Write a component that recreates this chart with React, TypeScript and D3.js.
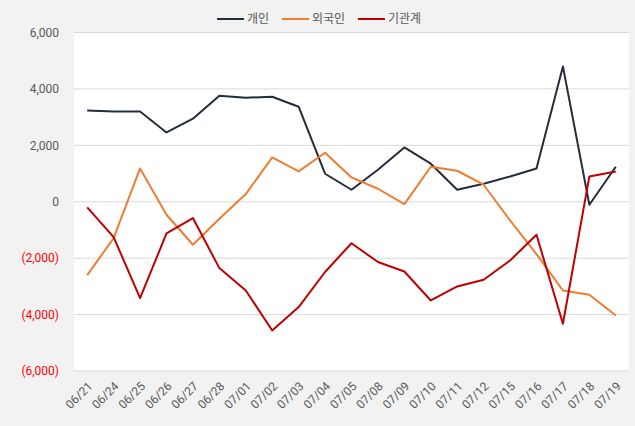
import React from "react";
import * as d3 from "d3";

const dates = ["06/21","06/24","06/25","06/26","06/27","06/28","07/01","07/02","07/03","07/04","07/05","07/08","07/09","07/10","07/11","07/12","07/15","07/16","07/17","07/18","07/19"];
const individual = [3237,3200,3200,2457,2943,3759,3688,3723,3369,993,425,1135,1926,1348,425,638,897,1181,4798,-106,1241];
const foreign = [-2600,-1287,1181,-461,-1525,-603,273,1571,1075,1738,862,461,-82,1241,1099,603,-663,-1855,-3145,-3298,-4032];
const institution = [-202,-1252,-3415,-1124,-578,-2352,-3145,-4564,-3734,-2490,-1470,-2138,-2471,-3500,-3003,-2766,-2081,-1170,-4326,897,1075];
const yTicks = [6000,4000,2000,0,-2000,-4000,-6000];
const seriesNames = ["개인","외국인","기관계"];
const seriesColors = ["#252d3a","#ed7d31","#c00000"];

const W = 635, H = 426;
const left = 74, right = 629, top = 32.5, bottom = 371;

export default function App() {
  const x = d3.scaleBand<string>().domain(dates).range([left, right]);
  const y = d3.scaleLinear().domain([-6000, 6000]).range([bottom, top]);
  const cx = (d: string) => (x(d) as number) + x.bandwidth() / 2;
  const line = d3.line<number>().x((_, i) => cx(dates[i])).y((v) => y(v));
  const all = [individual, foreign, institution];
  const fmt = (v: number) => v < 0 ? `(${d3.format(",")(-v)})` : d3.format(",")(v);
  const legendX = [217, 282, 358];
  return (
    <svg width={W} height={H} style={{ position: "absolute", left: 0, top: 0, fontFamily: "Roboto, 'Noto Sans CJK KR', sans-serif" }}>
      <rect x={0} y={0} width={W} height={H} fill="#f2f2f2" />
      <rect x={left} y={top} width={right - left} height={bottom - top} fill="#ffffff" />
      {yTicks.map((t) => (
        <line key={t} x1={left} x2={right} y1={y(t)} y2={y(t)} stroke="#d9d9d9" strokeWidth={1} />
      ))}
      {yTicks.map((t) => (
        <text key={"l" + t} x={59} y={y(t)} dy="0.35em" textAnchor="end" fontSize={12} fill={t < 0 ? "#ff0000" : "#595959"}>{fmt(t)}</text>
      ))}
      {dates.map((d) => (
        <text key={d} transform={`translate(${cx(d) + 3},${384}) rotate(-45)`} textAnchor="end" dy="0.35em" fontSize={12} fill="#595959">{d}</text>
      ))}
      {all.map((s, i) => (
        <path key={i} d={line(s) as string} fill="none" stroke={seriesColors[i]} strokeWidth={2} strokeLinejoin="round" />
      ))}
      {seriesNames.map((n, i) => (
        <g key={n}>
          <line x1={legendX[i]} x2={legendX[i] + 27} y1={19} y2={19} stroke={seriesColors[i]} strokeWidth={2} />
          <text x={legendX[i] + 30} y={19} dy="0.35em" fontSize={12} fill="#595959">{n}</text>
        </g>
      ))}
    </svg>
  );
}
